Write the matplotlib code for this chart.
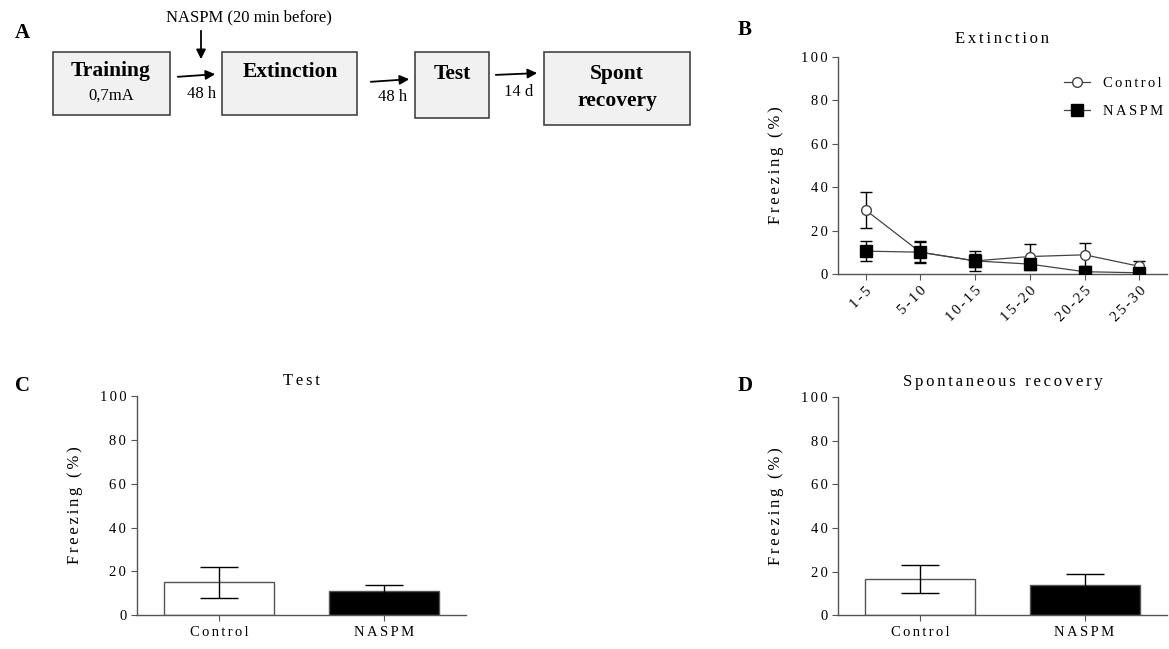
import numpy as np
import matplotlib.pyplot as plt
from matplotlib.patches import Rectangle
from matplotlib.lines import Line2D

plt.rcParams['font.family'] = ['Liberation Serif', 'DejaVu Serif']

# data
blocks = ['1-5', '5-10', '10-15', '15-20', '20-25', '25-30']
ctrl_ext = [29.5, 10.0, 6.0, 8.0, 8.8, 3.5]
ctrl_ext_err = [8.5, 5.0, 4.5, 6.0, 5.3, 2.5]
naspm_ext = [10.5, 10.0, 6.0, 4.5, 1.0, 0.5]
naspm_ext_err = [4.5, 4.5, 3.0, 1.0, 0.0, 0.0]

groups = ['Control', 'NASPM']
test_mean = [15.0, 11.0]
test_err = [7.0, 3.0]
spont_mean = [16.5, 14.0]
spont_err = [6.5, 5.0]

yticks = [0, 20, 40, 60, 80, 100]


def spaced(s):
    # the original figure uses letter-spaced labels
    return '\u2006'.join(s)


fig = plt.figure(figsize=(11.69, 6.49), dpi=100)

# panel A: protocol diagram in pixel coordinates
axA = fig.add_axes([0, 0, 1, 1])
axA.set_xlim(0, 1169)
axA.set_ylim(649, 0)
axA.axis('off')
axA.patch.set_alpha(0)

boxes = [(53, 52, 117, 63), (222, 52, 135, 63), (415, 52, 74, 66), (544, 52, 146, 73)]
for x, y, w, h in boxes:
    axA.add_patch(Rectangle((x, y), w, h, facecolor='#f1f1f1', edgecolor='#444444', lw=1.2))

axA.text(111, 71, 'Training', ha='center', va='center', fontsize=15.5, fontweight='bold')
axA.text(111, 96, '0,7mA', ha='center', va='center', fontsize=12)
axA.text(290, 72, 'Extinction', ha='center', va='center', fontsize=15.5, fontweight='bold')
axA.text(452, 74, 'Test', ha='center', va='center', fontsize=15.5, fontweight='bold')
axA.text(617, 74, 'Spont', ha='center', va='center', fontsize=15.5, fontweight='bold')
axA.text(617, 101, 'recovery', ha='center', va='center', fontsize=15.5, fontweight='bold')

arrow = dict(arrowstyle='-|>', color='black', lw=1.3, mutation_scale=14)
axA.annotate('', xy=(218, 74), xytext=(175, 77), arrowprops=arrow)
axA.annotate('', xy=(412, 79), xytext=(368, 82), arrowprops=arrow)
axA.annotate('', xy=(540, 73), xytext=(493, 75), arrowprops=arrow)
axA.annotate('', xy=(201, 62), xytext=(201, 28), arrowprops=arrow)

axA.text(249, 17, 'NASPM (20 min before)', ha='center', va='center', fontsize=12)
axA.text(202, 94, '48 h', ha='center', va='center', fontsize=12)
axA.text(393, 97, '48 h', ha='center', va='center', fontsize=12)
axA.text(519, 92, '14 d', ha='center', va='center', fontsize=12)

for lbl, x, y in [('A', 22, 33), ('B', 745, 30), ('C', 22, 386), ('D', 745, 386)]:
    axA.text(x, y, lbl, ha='center', va='center', fontsize=15, fontweight='bold')


def style(ax):
    for s in ['top', 'right']:
        ax.spines[s].set_visible(False)
    for s in ['left', 'bottom']:
        ax.spines[s].set_color('#555555')
        ax.spines[s].set_linewidth(1.0)
    ax.tick_params(colors='#555555', labelcolor='black', labelsize=10.5, length=4)
    ax.set_ylim(0, 100)
    ax.set_yticks(yticks)
    ax.set_yticklabels([spaced(str(t)) for t in yticks])
    ax.set_ylabel(spaced('Freezing (%)'), fontsize=12, labelpad=12)


# panel B
axB = fig.add_axes([0.717, 0.578, 0.281, 0.334])
x = np.arange(len(blocks))
axB.errorbar(x, ctrl_ext, yerr=ctrl_ext_err, color='#444444', lw=0.9, marker='o', ms=7,
             mfc='white', mec='#444444', ecolor='black', elinewidth=1, capsize=4, zorder=3)
axB.errorbar(x, naspm_ext, yerr=naspm_ext_err, color='#444444', lw=0.9, marker='s', ms=8,
             mfc='black', mec='black', ecolor='black', elinewidth=1, capsize=4, zorder=4)
axB.set_xlim(-0.5, 5.5)
axB.set_xticks(x)
axB.set_xticklabels([spaced(b) for b in blocks], rotation=45, ha='right', rotation_mode='anchor')
style(axB)
axB.set_title(spaced('Extinction'), fontsize=12, pad=10)
handles = [Line2D([], [], color='#444444', lw=0.9, marker='o', ms=7, mfc='white', mec='#444444'),
           Line2D([], [], color='#444444', lw=0.9, marker='s', ms=8, mfc='black', mec='black')]
axB.legend(handles, [spaced(g) for g in groups], loc='upper right', bbox_to_anchor=(1.03, 0.97),
           frameon=False, fontsize=10.5, handlelength=1.8, handletextpad=0.9, labelspacing=1.0)


def bars(ax, means, errs, title):
    xb = np.arange(len(groups))
    ax.bar(xb, means, width=0.67, color=['white', 'black'], edgecolor='#555555', lw=1, zorder=2)
    ax.errorbar(xb, means, yerr=errs, fmt='none', ecolor='black', elinewidth=1, capsize=14, zorder=3)
    ax.set_xlim(-0.5, 1.5)
    ax.set_xticks(xb)
    ax.set_xticklabels([spaced(g) for g in groups])
    style(ax)
    ax.set_title(spaced(title), fontsize=12, pad=8)


axC = fig.add_axes([0.117, 0.052, 0.282, 0.338])
bars(axC, test_mean, test_err, 'Test')

axD = fig.add_axes([0.717, 0.052, 0.281, 0.336])
bars(axD, spont_mean, spont_err, 'Spontaneous recovery')

plt.savefig('out.png', dpi=100)
